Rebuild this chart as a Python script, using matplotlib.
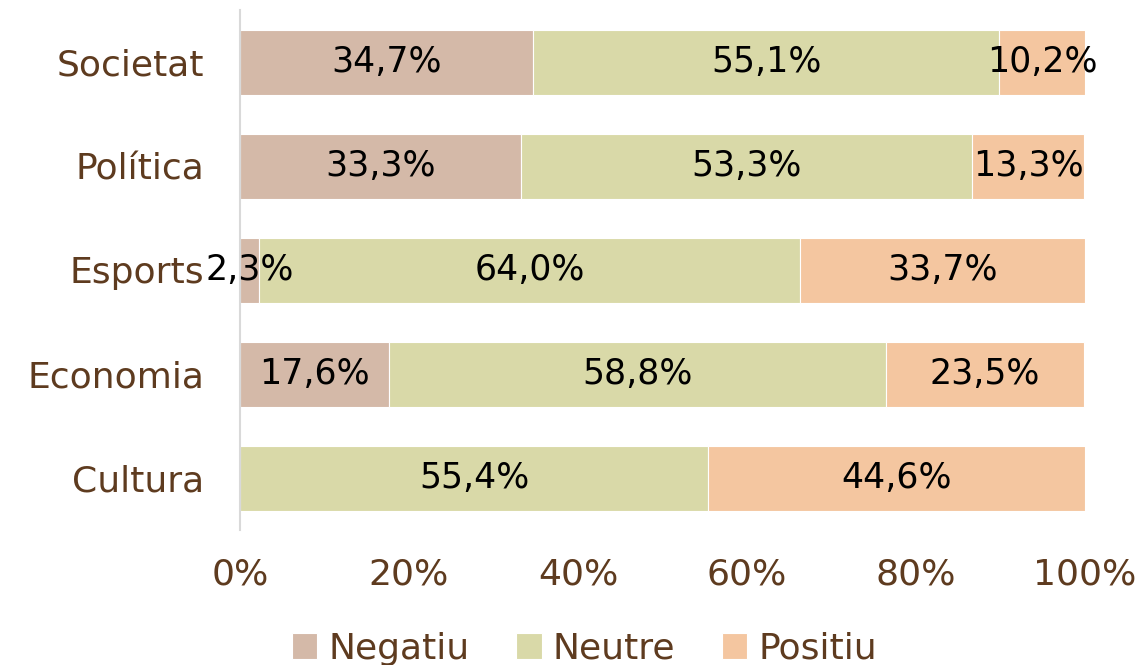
import matplotlib.pyplot as plt

categories = ["Cultura", "Economia", "Esports", "Política", "Societat"]
negatiu = [0.0, 17.6, 2.3, 33.3, 34.7]
neutre = [55.4, 58.8, 64.0, 53.3, 55.1]
positiu = [44.6, 23.5, 33.7, 13.3, 10.2]
xticks = [0, 20, 40, 60, 80, 100]

series = [("Negatiu", negatiu, "#D4B9A8"),
          ("Neutre", neutre, "#D9D9A8"),
          ("Positiu", positiu, "#F4C6A0")]

text_color = "#5E3B1F"
plt.rcParams["font.family"] = ["DejaVu Sans"]

fig = plt.figure(figsize=(11.37, 6.65), dpi=100)
ax = fig.add_axes([240 / 1137, 1 - 530 / 665, 845 / 1137, 520 / 665])

ypos = list(range(len(categories)))
left = [0.0] * len(categories)
for name, vals, color in series:
    bars = ax.barh(ypos, vals, left=left, height=0.625, color=color,
                   edgecolor="white", linewidth=0.8, label=name)
    for b, v in zip(bars, vals):
        if v > 0:
            ax.text(b.get_x() + b.get_width() / 2, b.get_y() + b.get_height() / 2,
                    f"{v:.1f}%".replace(".", ","), ha="center", va="center",
                    fontsize=25, color="black")
    left = [l + v for l, v in zip(left, vals)]

ax.set_xlim(0, 100)
ax.set_ylim(-0.5, 4.5)
ax.set_yticks(ypos)
ax.set_yticklabels(categories, fontsize=26, color=text_color)
ax.set_xticks(xticks)
ax.set_xticklabels([f"{t}%" for t in xticks], fontsize=26, color=text_color)
ax.tick_params(axis="y", length=0, pad=26)
ax.tick_params(axis="x", length=0, pad=20)

for s in ["top", "right", "bottom"]:
    ax.spines[s].set_visible(False)
ax.spines["left"].set_color("#D9D9D9")
ax.spines["left"].set_linewidth(1.5)

leg = fig.legend(loc="lower center", bbox_to_anchor=(0.514, -0.05), ncol=3,
                 frameon=False, fontsize=26, handlelength=0.7, handleheight=0.7,
                 handletextpad=0.3, columnspacing=1.3)
for t in leg.get_texts():
    t.set_color(text_color)

fig.savefig("out.png", dpi=100)
